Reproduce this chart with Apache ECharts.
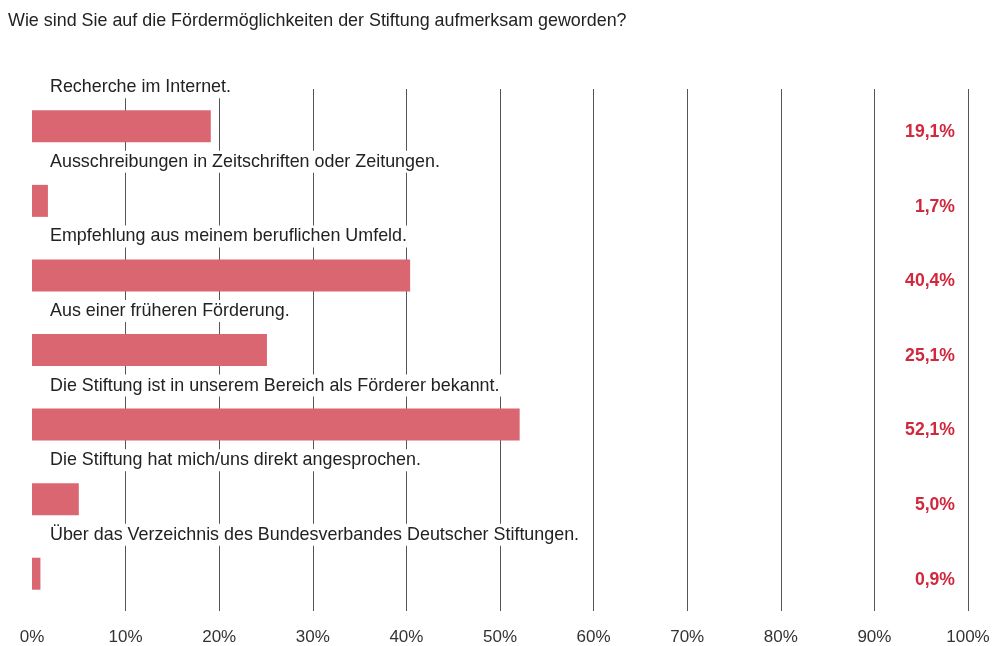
<!DOCTYPE html>
<html><head><meta charset="utf-8">
<script src="https://cdn.jsdelivr.net/npm/echarts@6/dist/echarts.min.js"></script>
<style>html,body{margin:0;padding:0;background:#fff}#c{width:998px;height:646px}</style>
</head><body><div id="c"></div>
<script>
const categories = [
  "Recherche im Internet.",
  "Ausschreibungen in Zeitschriften oder Zeitungen.",
  "Empfehlung aus meinem beruflichen Umfeld.",
  "Aus einer früheren Förderung.",
  "Die Stiftung ist in unserem Bereich als Förderer bekannt.",
  "Die Stiftung hat mich/uns direkt angesprochen.",
  "Über das Verzeichnis des Bundesverbandes Deutscher Stiftungen."
];
const values = [19.1, 1.7, 40.4, 25.1, 52.1, 5.0, 0.9];
const fullScale = [100, 100, 100, 100, 100, 100, 100];
const titleText = "Wie sind Sie auf die Fördermöglichkeiten der Stiftung aufmerksam geworden?";

const font = '"Liberation Sans", Arial, sans-serif';
const chart = echarts.init(document.getElementById('c'));
chart.setOption({
  animation: false,
  backgroundColor: '#fff',
  title: {
    text: titleText, left: 3, top: 7,
    textStyle: {fontFamily: font, fontSize: 17.9, fontWeight: 'normal', color: '#222'}
  },
  grid: {left: 32, right: 30, top: 89, bottom: 34, containLabel: false},
  xAxis: {
    type: 'value', min: 0, max: 100, interval: 10,
    axisLine: {show: false}, axisTick: {show: false},
    axisLabel: {formatter: '{value}%', fontFamily: font, fontSize: 17, color: '#333', margin: 18},
    splitLine: {show: true, showMinLine: false, lineStyle: {color: '#555', width: 1}}
  },
  yAxis: {
    type: 'category', data: categories, inverse: true,
    axisLine: {show: false}, axisTick: {show: false}, axisLabel: {show: false},
    splitLine: {show: false}
  },
  series: [
    {
      type: 'bar', data: values, barWidth: 32,
      itemStyle: {color: '#d96670'},
      label: {
        show: true, position: [14, -34],
        formatter: p => categories[p.dataIndex],
        fontFamily: font, fontSize: 17.9, color: '#222',
        backgroundColor: '#fff', padding: [2, 4]
      },
      z: 2
    },
    {
      type: 'bar', data: fullScale, barWidth: 32, barGap: '-100%',
      itemStyle: {color: 'rgba(0,0,0,0)'},
      label: {
        show: true, position: 'insideRight', distance: 13, offset: [0, 6],
        formatter: p => values[p.dataIndex].toFixed(1).replace('.', ',') + '%',
        fontFamily: font, fontSize: 17.6, fontWeight: 'bold', color: '#d0283c'
      },
      silent: true, z: 3
    }
  ]
});
</script></body></html>
